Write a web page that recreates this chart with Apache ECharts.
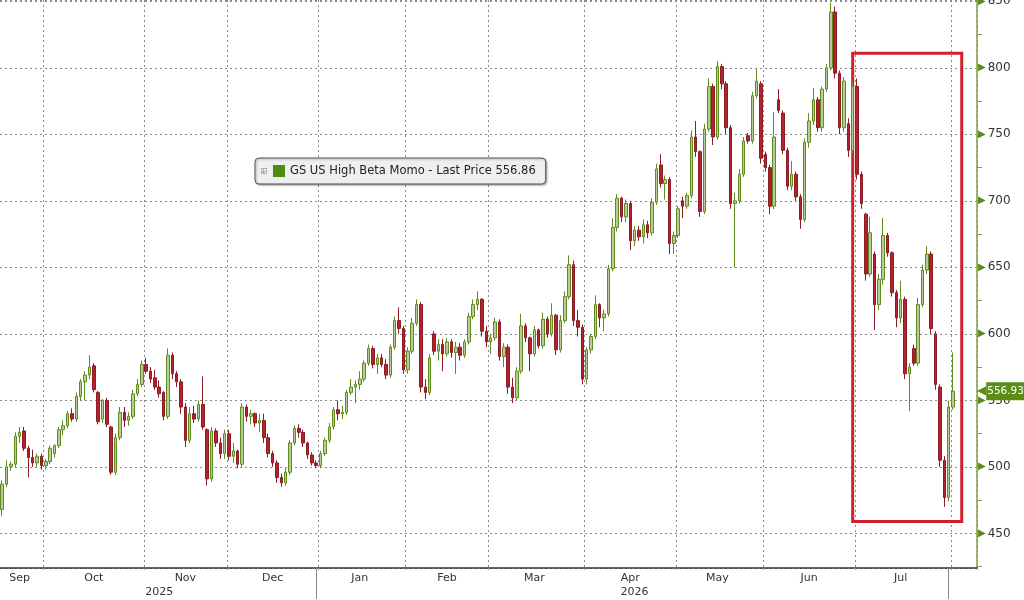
<!DOCTYPE html>
<html>
<head>
<meta charset="utf-8">
<title>GS US High Beta Momo</title>
<script src="https://cdn.jsdelivr.net/npm/echarts@6/dist/echarts.min.js"></script>
<style>
html, body { margin: 0; padding: 0; background: #fff; }
#chart { width: 1024px; height: 600px; }
</style>
</head>
<body>
<div id="chart"></div>
<script>
// daily bars, each [open, high, low, close]
var sep25 = [[468,490,463,487],[487,505,485,500],[500,504,497,502],[502,526,500,523],[523,530,518,526],
  [527,530,512,514],[514,516,492,507],[507,513,500,503],[503,510,500,508],[508,510,498,501]];
var oct25 = [[501,506,498,504],[504,516,502,514],[510,517,507,516],[516,530,514,528],[528,535,524,531],
  [531,542,529,540],[540,544,534,536],[536,556,534,553],[553,566,550,564],[564,572,550,569],
  [569,584,566,575],[576,578,556,558],[556,557,532,534],[536,551,533,550],[550,552,530,532],
  [530,531,494,496],[496,525,494,522],[522,545,520,541],[541,545,530,535],[535,541,531,538],
  [538,558,536,555],[555,566,553,562],[562,580,560,577]];
var nov25 = [[577,582,570,572],[572,575,563,566],[567,573,558,560],[560,565,552,555],[556,557,535,538],
  [538,589,536,584],[584,586,566,570],[570,572,560,564],[564,566,540,545],[545,548,515,520],
  [520,545,518,540],[540,546,533,536],[536,550,534,547],[547,568,528,530],[528,529,486,491],
  [491,530,489,527],[527,529,515,518],[518,522,506,510],[510,528,506,525]];
var dec25 = [[525,528,505,508],[508,518,503,512],[512,513,499,502],[502,548,500,545],[545,547,534,538],
  [538,543,532,540],[540,541,530,533],[533,540,526,535],[535,540,518,522],[522,525,507,510],
  [510,512,500,503],[503,505,488,492],[492,495,485,488],[488,499,486,496],[496,520,494,518],
  [518,531,516,529],[529,532,522,526],[526,528,515,518],[518,519,506,509],[509,511,501,503],
  [503,505,499,501]];
var jan26 = [[501,512,499,510],[510,522,508,520],[520,533,518,530],[530,545,528,543],[543,550,535,540],
  [540,546,536,541],[541,558,539,556],[556,566,554,560],[560,565,548,562],[562,572,558,566],
  [566,580,564,578],[578,592,576,589],[589,591,574,577],[577,585,570,582],[582,585,575,577],
  [577,581,566,569],[569,592,567,590],[590,613,588,610],[610,620,600,604],[604,606,570,573]];
var feb26 = [[573,590,570,587],[587,612,585,608],[608,626,606,622],[622,624,556,560],[560,566,551,556],
  [556,585,554,582],[600,602,584,587],[587,596,580,592],[592,596,572,585],[585,597,583,594],
  [594,596,582,586],[586,594,570,590],[590,593,580,584],[584,596,582,594],[594,616,592,613],
  [613,626,611,622],[622,632,618,626],[626,627,598,602],[602,606,590,594]];
var mar26 = [[594,600,585,597],[597,612,595,609],[609,611,580,583],[583,593,575,590],[590,592,555,560],
  [560,567,548,552],[552,575,550,572],[572,615,570,606],[606,608,594,597],[597,598,572,585],
  [585,606,583,603],[603,604,589,591],[591,616,589,611],[611,613,597,600],[600,623,598,614],
  [614,615,584,588],[588,614,586,610],[610,632,608,628],[628,659,626,652],[652,655,606,610],
  [610,618,598,605],[605,607,562,566]];
var apr26 = [[566,590,562,588],[588,600,585,598],[598,629,596,622],[622,623,605,612],[612,618,602,615],
  [615,652,613,649],[649,687,647,680],[680,705,677,702],[702,703,684,688],[688,701,684,698],
  [698,700,663,670],[670,681,666,678],[678,681,670,673],[673,686,668,682],[682,685,672,676],
  [676,702,674,699],[699,728,697,724],[727,735,710,713],[713,719,701,716],[716,718,660,668],
  [668,677,660,674]];
var may26 = [[674,696,672,694],[700,703,687,696],[696,706,694,704],[704,753,702,748],[748,760,733,737],
  [737,738,688,692],[692,758,690,754],[754,792,752,786],[786,788,742,748],[748,805,746,801],
  [801,803,784,788],[788,790,750,755],[755,757,694,698],[698,706,650,700],[700,724,698,720],
  [720,748,718,745],[749,751,743,745],[745,782,743,779],[779,799,777,790],[788,790,728,732]];
var jun26 = [[735,737,722,725],[725,727,690,696],[696,767,694,748],[776,784,766,768],[766,768,735,738],
  [738,740,708,711],[711,730,708,720],[720,722,700,703],[703,705,679,686],[686,747,684,744],
  [744,766,740,760],[760,785,757,776],[776,778,752,755],[755,786,752,784],[784,803,782,800],
  [800,849,798,842],[842,846,792,796],[796,798,750,755],[755,793,752,790],[758,762,733,738],
  [738,790,736,786]];
var jul26 = [[786,792,716,720],[720,722,694,698],[690,691,640,645],[645,688,643,676],[660,662,603,622],
  [622,645,618,641],[641,687,637,674],[674,676,658,661],[661,662,628,631],[631,633,605,612],
  [612,640,608,626],[626,628,566,570],[570,578,542,575],[589,592,576,578],[578,627,576,622],
  [622,652,620,648],[648,666,645,660],[660,662,600,604],[600,602,558,562],[560,562,500,505],
  [505,508,470,477],[477,550,474,545]];
var aug26 = [[545,586,543,556.93]];

var monthNames = ['Sep', 'Oct', 'Nov', 'Dec', 'Jan', 'Feb', 'Mar', 'Apr', 'May', 'Jun', 'Jul', 'Aug'];
var monthBars = [sep25, oct25, nov25, dec25, jan26, feb26, mar26, apr26, may26, jun26, jul26, aug26];
var emptySlots = 5;              // blank trading days right of the last bar
var yearNames = ['2025', '2026'];
var yearLabelDay = [36, 145];    // day index the year text sits under
var yearBreakDay = [72, 217];    // day index of the year separator
var seriesName = 'GS US High Beta Momo';
var legendLast = '556.86';
var lastPrice = 556.93;
var boxDays = [195, 220];        // red highlight, day range
var boxPrices = [459, 811];      // red highlight, price range

var font = 'DejaVu Sans';

// categories = trading days; month starts and month label positions
var categories = [], candles = [], monthStart = {}, monthLabelAt = {};
monthBars.forEach(function (bars, m) {
    var start = categories.length;
    monthStart[start] = true;
    if (bars.length > 1) monthLabelAt[start + Math.floor((bars.length - 1) / 2)] = monthNames[m];
    bars.forEach(function (b, k) {
        categories.push(monthNames[m] + '-' + (k + 1));
        candles.push([b[0], b[3], b[2], b[1]]);
    });
});
for (var i = 0; i < emptySlots; i++) categories.push('pad-' + i);

var yearAt = {};
yearLabelDay.forEach(function (d, k) { yearAt[d] = yearNames[k]; });

var option = {
    animation: false,
    textStyle: { fontFamily: font },
    grid: { left: 0, right: 47, top: 0, bottom: 32, containLabel: false, outerBoundsMode: 'none' },
    legend: {
        left: 255,
        top: 158,
        selectedMode: false,
        data: [{ name: seriesName, icon: 'rect', itemStyle: { color: '#4d8a0e', borderColor: '#4d8a0e', borderWidth: 0 } }],
        formatter: function (name) { return name + ' - Last Price ' + legendLast; },
        itemWidth: 12,
        itemHeight: 12,
        padding: [7, 10, 7, 18],
        backgroundColor: '#efefef',
        borderColor: '#555',
        borderWidth: 1,
        borderRadius: 4,
        shadowColor: 'rgba(0,0,0,0.35)',
        shadowBlur: 2,
        shadowOffsetX: 1,
        shadowOffsetY: 1,
        textStyle: { fontFamily: font, fontSize: 11.5, color: '#222' }
    },
    graphic: [{
        type: 'text', left: 260, top: 167, z: 100,
        style: { text: '\u229E', fontSize: 9, fill: '#999', fontFamily: font }
    }],
    xAxis: [{
        type: 'category',
        data: categories,
        boundaryGap: true,
        axisLine: { lineStyle: { color: '#333', width: 1.5 } },
        axisTick: {
            show: true, length: 4,
            interval: function (idx) { return !!monthStart[idx] && idx > 0; },
            lineStyle: { color: '#999', type: [2, 2] }
        },
        axisLabel: {
            interval: function (idx) { return monthLabelAt[idx] !== undefined; },
            formatter: function (v, idx) { return monthLabelAt[idx] || ''; },
            margin: 5, fontSize: 11, color: '#333', fontFamily: font
        },
        splitLine: {
            show: true,
            interval: function (idx) { return !!monthStart[idx] && idx > 0; },
            lineStyle: { color: '#8a8a8a', type: [2, 3], width: 1 }
        }
    }, {
        type: 'category',
        data: categories,
        position: 'bottom',
        boundaryGap: true,
        axisLine: { show: false },
        axisTick: {
            show: true, alignWithLabel: true, length: 31,
            interval: function (idx) { return yearBreakDay.indexOf(idx) >= 0; },
            lineStyle: { color: '#888', width: 1 }
        },
        axisLabel: {
            interval: function (idx) { return yearAt[idx] !== undefined; },
            formatter: function (v, idx) { return yearAt[idx] || ''; },
            margin: 19, fontSize: 11, color: '#333', fontFamily: font
        },
        splitLine: { show: false }
    }],
    yAxis: {
        type: 'value',
        position: 'right',
        min: 424,
        max: 851,
        splitNumber: 8,
        axisLine: { show: true, lineStyle: { color: '#7f9c48', width: 1.5 } },
        axisTick: { show: false },
        minorTick: { show: true, splitNumber: 2, length: 5, lineStyle: { color: '#7f9c48', width: 1 } },
        axisLabel: {
            showMinLabel: false,
            showMaxLabel: false,
            margin: 1,
            formatter: function (v) { return '{t|\u25B6}{v|' + v + '}'; },
            rich: {
                t: { color: '#5b8a17', fontSize: 10, fontFamily: font, padding: [0, 2, 0, 0] },
                v: { color: '#333', fontSize: 12, fontFamily: font }
            }
        },
        splitLine: { show: true, lineStyle: { color: '#8a8a8a', type: [2, 3], width: 1 } }
    },
    series: [{
        name: seriesName,
        type: 'candlestick',
        data: candles,
        barWidth: 3,
        itemStyle: {
            color: '#b9cc98',
            color0: '#b3222f',
            borderColor: '#5f8c1a',
            borderColor0: '#8e1c24',
            borderWidth: 1
        },
        markLine: {
            silent: true,
            symbol: 'none',
            lineStyle: { color: 'rgba(0,0,0,0)', width: 1, type: 'solid' },
            label: {
                show: true,
                position: 'end',
                distance: 0,
                formatter: '{a|\u25C0}{b|' + lastPrice.toFixed(2) + '}',
                rich: {
                    a: { color: '#5a8c16', fontSize: 12, fontFamily: font },
                    b: { color: '#fff', backgroundColor: '#5a8c16', fontSize: 10.5, fontFamily: font, padding: [4, 1, 3, 1] }
                }
            },
            data: [{ yAxis: lastPrice }]
        },
        markArea: {
            silent: true,
            itemStyle: { color: 'rgba(0,0,0,0)', borderColor: '#d2202d', borderWidth: 3 },
            data: [[
                { xAxis: categories[boxDays[0]], yAxis: boxPrices[0] },
                { xAxis: categories[boxDays[1]], yAxis: boxPrices[1] }
            ]]
        }
    }]
};

var myChart = echarts.init(document.getElementById('chart'));
myChart.setOption(option);
</script>
</body>
</html>
